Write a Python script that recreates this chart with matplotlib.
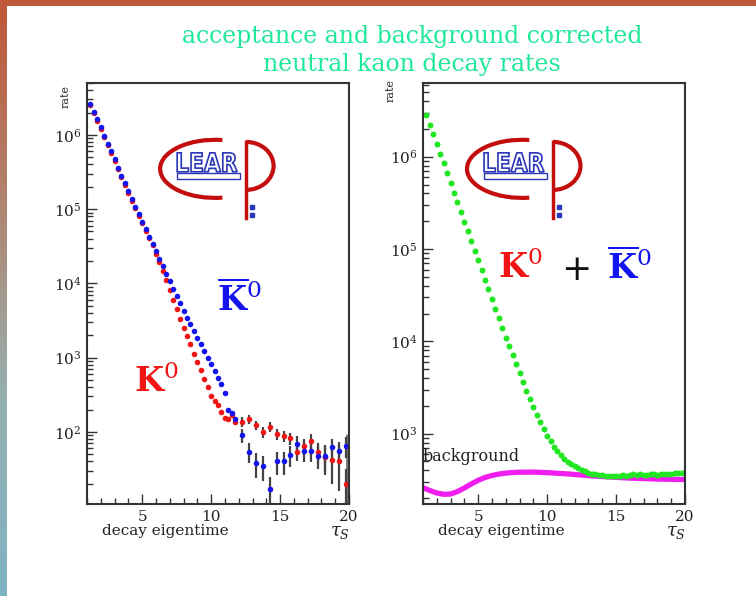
import numpy as np
import matplotlib
matplotlib.use("Agg")
import matplotlib.pyplot as plt
from matplotlib.patches import Arc, Rectangle, PathPatch
from matplotlib.textpath import TextPath
from matplotlib.font_manager import FontProperties
from matplotlib.transforms import Affine2D
from matplotlib.ticker import FixedLocator, MultipleLocator, NullFormatter
from matplotlib.colors import LinearSegmentedColormap

plt.rcParams["font.family"] = ["DejaVu Serif"]
plt.rcParams["mathtext.fontset"] = "dejavuserif"

# =====================================================
# DATA
# =====================================================

# fine bins (0.25 tau_S) and wide tail bins (0.5 tau_S)
t_fine = np.arange(1.25, 11.76, 0.25)
t_tail = np.arange(12.25, 19.76, 0.5)

kbar_fine = [2.63e6, 2.04e6, 1.62e6, 1.26e6, 9.77e5, 7.59e5, 6.03e5, 4.68e5,
             3.63e5, 2.82e5, 2.24e5, 1.74e5, 1.35e5, 1.07e5, 8.51e4, 6.76e4,
             5.37e4, 4.27e4, 3.39e4, 2.69e4, 2.14e4, 1.70e4, 1.35e4, 1.07e4,
             8510, 6760, 5370, 4270, 3470, 2820, 2290, 1860,
             1510, 1230, 1000, 813, 661, 537, 437, 339,
             200, 180, 150]
kbar_tail = [91, 54, 38, 35, 17, 40, 40, 49, 69, 56, 56, 48, 47, 62, 56, 65]
kbar_err = [20, 16, 14, 13, 8, 14, 14, 15, 18, 17, 17, 16, 17, 19, 18, 20]

k0_fine = [2.51e6, 1.95e6, 1.55e6, 1.20e6, 9.33e5, 7.24e5, 5.75e5, 4.47e5,
           3.47e5, 2.69e5, 2.14e5, 1.66e5, 1.29e5, 1.02e5, 8.13e4, 6.46e4,
           5.13e4, 4.07e4, 3.24e4, 2.51e4, 1.95e4, 1.48e4, 1.12e4, 8130,
           5890, 4470, 3310, 2510, 1950, 1510, 1120, 871,
           676, 513, 398, 302, 257, 229, 186, 155,
           148, 170, 135]
k0_tail = [138, 148, 124, 101, 118, 94, 88, 82, 54, 65, 76, 54, 46, 42, 41, 20]
k0_err = [20, 20, 18, 17, 18, 16, 16, 16, 14, 16, 17, 16, 20, 22, 25, 12]

t_sum = np.arange(1.25, 20.01, 0.25)
k_sum = [2.83e6, 2.22e6, 1.75e6, 1.37e6, 1.08e6, 8.45e5, 6.64e5, 5.21e5,
         4.09e5, 3.21e5, 2.52e5, 1.98e5, 1.56e5, 1.22e5, 9.6e4, 7.53e4,
         5.92e4, 4.65e4, 3.65e4, 2.86e4, 2.25e4, 1.77e4, 1.39e4, 1.09e4,
         8900, 7060, 5620, 4490, 3600, 2900, 2350, 1920,
         1590, 1325, 1117, 953, 825, 724, 645, 583,
         534, 495, 465, 441, 420, 403, 390, 379,
         370, 363, 358, 355, 350, 347, 349, 351,
         350, 354, 352, 358, 362, 356, 364, 360,
         358, 366, 362, 360, 368, 364, 370, 366,
         372, 376, 371, 380]

t_bg = np.arange(1.0, 20.01, 0.5)
background = [260, 242, 228, 220, 222, 236, 258, 285, 312, 335,
              352, 365, 374, 379, 382, 383, 383, 381, 378, 374,
              370, 366, 361, 356, 351, 347, 343, 339, 336, 333,
              330, 328, 326, 324, 322, 321, 320, 319, 318]

# last (overflow) bin error band at the right edge of the left panel
edge_t = 19.93
edge_lo, edge_hi = 10.7, 95

BLUE = "#1414f0"
RED = "#f01414"
GREEN = "#22e622"
MAGENTA = "#f01ef0"
FRAME = "#333333"


def draw_logo(ax, x0):
    tr = ax.transAxes
    red = "#c40d0d"
    navy = "#2a35b8"
    ax.add_patch(Arc((x0 + 0.21, 0.796), 0.42, 0.138, theta1=68, theta2=292,
                     color=red, lw=3, transform=tr))
    sx = x0 + 0.328
    ax.plot([sx, sx], [0.679, 0.860], color=red, lw=2.5, transform=tr)
    ax.add_patch(Arc((sx, 0.803), 0.21, 0.114, theta1=-90, theta2=90,
                     color=red, lw=3, transform=tr))
    ax.plot([sx + 0.022] * 2, [0.705, 0.686], ls="none", marker="s", ms=2.5,
            color=navy, transform=tr)
    tp = TextPath((0, 0), "LEAR", size=1,
                  prop=FontProperties(family="DejaVu Sans", weight="bold"))
    ext = tp.get_extents()
    bx0, bx1, by0, by1 = x0 + 0.065, x0 + 0.294, 0.789, 0.834
    m = (Affine2D().translate(-ext.x0, -ext.y0)
         .scale((bx1 - bx0) / ext.width, (by1 - by0) / ext.height)
         .translate(bx0, by0))
    ax.add_patch(PathPatch(m.transform_path(tp), transform=tr,
                           facecolor="white", edgecolor=navy, lw=1.2))
    ax.add_patch(Rectangle((bx0, 0.772), bx1 - bx0 + 0.01, 0.014, fill=False,
                           edgecolor=navy, lw=1, transform=tr))


def style_axes(ax):
    ax.set_yscale("log")
    ax.set_xlim(1, 20)
    ax.xaxis.set_major_locator(FixedLocator([5, 10, 15, 20]))
    ax.xaxis.set_minor_locator(MultipleLocator(1))
    ax.yaxis.set_minor_formatter(NullFormatter())
    ax.tick_params(which="both", direction="in", top=False, right=False,
                   color=FRAME, labelcolor="#222222", labelsize=11, pad=4)
    ax.tick_params(which="major", length=7, width=1)
    ax.tick_params(which="minor", length=4, width=1)
    for s in ax.spines.values():
        s.set_linewidth(1.5)
        s.set_color(FRAME)
    ax.text(0.298, -0.064, "decay eigentime", transform=ax.transAxes,
            ha="center", va="center", fontsize=11, color="#222222")
    ax.text(0.967, -0.066, r"$\tau_S$", transform=ax.transAxes,
            ha="center", va="center", fontsize=13, color="#222222")


fig = plt.figure(figsize=(7.56, 5.96), dpi=100)

# frame decoration: top bar and left gradient strip
top = fig.add_axes([0, 1 - 6 / 596, 1, 6 / 596])
top.axis("off")
top.add_patch(Rectangle((0, 0), 1, 1, color="#bf5b3b", transform=top.transAxes))
side = fig.add_axes([0, 0, 7 / 756, 1 - 6 / 596])
grad = LinearSegmentedColormap.from_list("g", ["#7fb3c3", "#95b0b0", "#b08570", "#c0583a"])
side.imshow(np.linspace(0, 1, 200).reshape(-1, 1), cmap=grad, aspect="auto",
            origin="lower")
side.axis("off")

# =====================================================
# LEFT PANEL : K0 and K0bar
# =====================================================

ax1 = fig.add_axes([0.1151, 0.1544, 0.3466, 0.7064])
style_axes(ax1)

ax1.vlines(edge_t, edge_lo, edge_hi, color="#777777", lw=3.5)
ax1.plot(t_fine, k0_fine, "o", color=RED, ms=4, mew=0)
ax1.plot(t_fine, kbar_fine, "o", color=BLUE, ms=4, mew=0)
ax1.errorbar(t_tail, k0_tail, yerr=k0_err, fmt="o", color=RED, ecolor="#444444",
             elinewidth=1.6, ms=4, mew=0, capsize=0)
ax1.errorbar(t_tail, kbar_tail, yerr=kbar_err, fmt="o", color=BLUE,
             ecolor="#444444", elinewidth=1.6, ms=4, mew=0, capsize=0)

ax1.set_ylim(10.7, 5.0e6)

ax1.text(0.496, 0.461, r"$\mathbf{\overline{K}}^{0}$", transform=ax1.transAxes,
         color=BLUE, fontsize=24, ha="left", va="baseline")
ax1.text(0.179, 0.266, r"$\mathbf{K}^{0}$", transform=ax1.transAxes,
         color=RED, fontsize=24, ha="left", va="baseline")
ax1.text(-0.080, 0.969, "rate", transform=ax1.transAxes, rotation=90,
         ha="center", va="center", fontsize=8, color="#222222")
draw_logo(ax1, 0.279)

# =====================================================
# RIGHT PANEL : K0 + K0bar and background
# =====================================================

ax2 = fig.add_axes([0.5595, 0.1544, 0.3466, 0.7064])
style_axes(ax2)

ax2.plot(t_bg, background, "-", color=MAGENTA, lw=3.8, solid_capstyle="round")
ax2.plot(t_sum, k_sum, "o", color=GREEN, ms=4.3, mew=0)

ax2.set_ylim(173, 6.3e6)

ax2.text(0.0, 0.102, "background", transform=ax2.transAxes, fontsize=11.5,
         color="#222222", ha="left", va="baseline")
ax2.text(0.286, 0.537, r"$\mathbf{K}^{0}$", transform=ax2.transAxes,
         color=RED, fontsize=24, ha="left", va="baseline")
ax2.text(0.584, 0.556, "+", transform=ax2.transAxes, color="#111111",
         fontsize=26, ha="center", va="center")
ax2.text(0.702, 0.537, r"$\mathbf{\overline{K}}^{0}$", transform=ax2.transAxes,
         color=BLUE, fontsize=24, ha="left", va="baseline")
ax2.text(-0.122, 0.983, "rate", transform=ax2.transAxes, rotation=90,
         ha="center", va="center", fontsize=8, color="#222222")
draw_logo(ax2, 0.168)

# =====================================================
# TITLE
# =====================================================

fig.text(0.545, 1 - 43 / 596, "acceptance and background corrected",
         ha="center", va="baseline", fontsize=17, color="#1fe89a")
fig.text(0.545, 1 - 71 / 596, "neutral kaon decay rates",
         ha="center", va="baseline", fontsize=17, color="#1fe89a")

plt.savefig("out.png", dpi=100)
